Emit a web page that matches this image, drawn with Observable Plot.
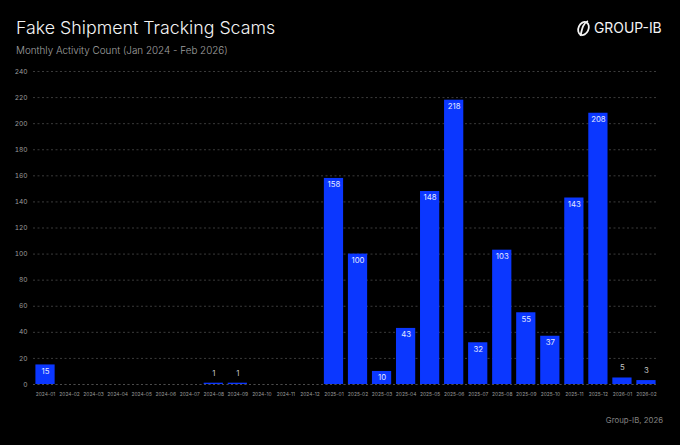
<!DOCTYPE html>
<html>
<head>
<meta charset="utf-8">
<script src="https://cdn.jsdelivr.net/npm/d3@7"></script>
<script src="https://cdn.jsdelivr.net/npm/@observablehq/plot@0.6"></script>
<style>
html,body{margin:0;padding:0;background:#000;}
body{width:680px;height:445px;overflow:hidden;font-family:Inter,"Noto Sans",sans-serif;position:relative;}
#head{position:relative;height:60px;}
#title{position:absolute;left:16px;top:16px;font-size:17.8px;line-height:24px;color:#f4f4f4;font-weight:300;white-space:nowrap;}
#sub{position:absolute;left:16px;top:42.5px;font-size:9.9px;line-height:14px;color:#a2a2a2;font-weight:300;white-space:nowrap;}
#logo{position:absolute;left:576px;top:19px;height:18px;display:flex;align-items:center;color:#f4f4f4;}
#logo span{font-size:13.9px;font-weight:400;margin-left:3px;}
#foot{position:relative;height:35px;}
#foot div{position:absolute;right:17px;top:5px;font-size:7.8px;color:#808080;}
svg.plot{display:block;}
</style>
</head>
<body>
<div id="head">
  <div id="title">Fake Shipment Tracking Scams</div>
  <div id="sub">Monthly Activity Count (Jan 2024 - Feb 2026)</div>
  <div id="logo"><svg width="15" height="17" viewBox="0 0 15 17"><ellipse cx="7.5" cy="8.5" rx="5" ry="6.8" transform="rotate(25 7.5 8.5)" fill="none" stroke="#f4f4f4" stroke-width="1.8"/><path d="M4.5 16 C6 9 7 3 12 1" fill="none" stroke="#f4f4f4" stroke-width="1.8"/></svg><span>GROUP-IB</span></div>
</div>
<div id="chart"></div>
<div id="foot"><div>Group-IB, 2026</div></div>
<script>
const months = ["2024-01","2024-02","2024-03","2024-04","2024-05","2024-06","2024-07","2024-08","2024-09","2024-10","2024-11","2024-12","2025-01","2025-02","2025-03","2025-04","2025-05","2025-06","2025-07","2025-08","2025-09","2025-10","2025-11","2025-12","2026-01","2026-02"];
const counts = [15,0,0,0,0,0,0,1,1,0,0,0,158,100,10,43,148,218,32,103,55,37,143,208,5,3];
const yTicks = d3.range(0, 241, 20);
const rows = months.map((m, i) => ({month: m, count: counts[i]}));
const inside = rows.filter(d => d.count >= 10);
const outside = rows.filter(d => d.count > 0 && d.count < 10);
const chart = Plot.plot({
  width: 680,
  height: 350,
  marginTop: 11,
  marginBottom: 26,
  marginLeft: 33,
  marginRight: 22,
  style: {background: "#000", fontFamily: "Inter, 'Noto Sans', sans-serif"},
  x: {domain: months, paddingInner: 0.2, paddingOuter: 0.1, round: false, label: null, tickSize: 0, tickPadding: 8},
  y: {domain: [0, 240], ticks: yTicks, label: null, tickSize: 0, tickPadding: 6},
  marks: [
    Plot.ruleY(yTicks, {stroke: "#555", strokeWidth: 0.7, strokeDasharray: "2 2.5"}),
    Plot.barY(rows, {x: "month", y: "count", fill: "#0b37ff"}),
    Plot.ruleY([0], {stroke: "#555", strokeWidth: 0.7, strokeDasharray: "2 2.5"}),
    Plot.text(inside, {x: "month", y: "count", text: d => String(d.count), dy: 6.5, fill: "#e4e9ff", fontSize: 7.8, fontWeight: 400}),
    Plot.text(outside, {x: "month", y: "count", text: d => String(d.count), dy: -10, fill: "#c4c4c4", fontSize: 7.8, fontWeight: 400})
  ]
});
chart.querySelectorAll('[aria-label="x-axis tick label"] text').forEach(t => {t.setAttribute("font-size","4.9"); t.setAttribute("fill","#9a9a9a");});
chart.querySelectorAll('[aria-label="y-axis tick label"] text').forEach(t => {t.setAttribute("font-size","6.6"); t.setAttribute("fill","#9a9a9a");});
document.getElementById("chart").appendChild(chart);
</script>
</body>
</html>
